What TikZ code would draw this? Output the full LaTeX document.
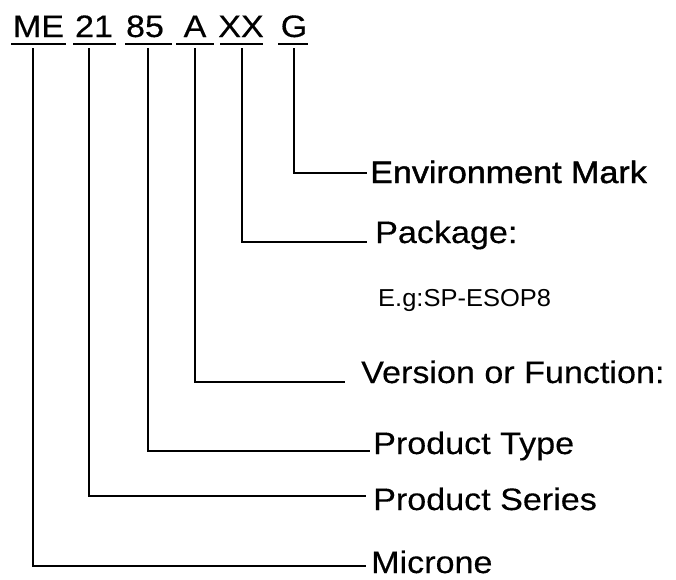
\documentclass[tikz,border=0pt]{standalone}
\usepackage{fontspec}
\setmainfont{Liberation Sans}[FakeStretch=1.1,FakeBold=0.3]
\newfontfamily\envfont{Liberation Sans}[FakeStretch=1.1,FakeBold=1.4]
\newfontfamily\smallfont{Liberation Sans}[FakeStretch=1.04]
\begin{document}
\begin{tikzpicture}[x=1pt,y=-1pt,
  tok/.style={anchor=base,inner sep=0pt,font=\fontsize{31}{36}\selectfont},
  lbl/.style={anchor=base west,inner sep=0pt,font=\fontsize{31}{36}\selectfont},
  small/.style={anchor=base west,inner sep=0pt,font=\smallfont\fontsize{24.5}{29}\selectfont},
  wire/.style={line width=1.7pt,line cap=rect,line join=miter},
  uline/.style={line width=1.7pt}]
\useasboundingbox (0,0) rectangle (676,579);
% top part number tokens
\node[tok] (me) at (38.5,37) {ME};
\node[tok] (n21) at (94,37) {21};
\node[tok] (n85) at (145,37) {85};
\node[tok] (a) at (195,37) {A};
\node[tok] (xx) at (241,37) {XX};
\node[tok] (g) at (294,37) {G};
% underlines
\draw[uline] (11,44) -- (66,44);
\draw[uline] (73,44) -- (116,44);
\draw[uline] (125,44) -- (172,44);
\draw[uline] (176,44) -- (214,44);
\draw[uline] (220,44) -- (263,44);
\draw[uline] (278,44) -- (308,44);
% labels
\node[lbl,font=\envfont\fontsize{31}{36}\selectfont] (env) at (370,183) {Environment Mark};
\node[lbl] (pkg) at (375,243) {Package:};
\node[small] (eg) at (378,306) {E.g:SP-ESOP8};
\node[lbl] (ver) at (361,383) {Version or Function:};
\node[lbl] (ptype) at (373,454) {Product Type};
\node[lbl] (pser) at (373,510) {Product Series};
\node[lbl] (mic) at (371,573) {Microne};
% tick tops
\coordinate (meT) at (33,49);
\coordinate (n21T) at (89,49);
\coordinate (n85T) at (148,49);
\coordinate (aT) at (195,49);
\coordinate (xxT) at (242,49);
\coordinate (gT) at (294,49);
% line ends
\coordinate (envE) at (366,173);
\coordinate (pkgE) at (366,242);
\coordinate (verE) at (344,382);
\coordinate (ptypeE) at (369,451);
\coordinate (pserE) at (365,496);
\coordinate (micE) at (365,566);
% connectors
\draw[wire] (gT) |- (envE);
\draw[wire] (xxT) |- (pkgE);
\draw[wire] (aT) |- (verE);
\draw[wire] (n85T) |- (ptypeE);
\draw[wire] (n21T) |- (pserE);
\draw[wire] (meT) |- (micE);
\end{tikzpicture}
\end{document}
